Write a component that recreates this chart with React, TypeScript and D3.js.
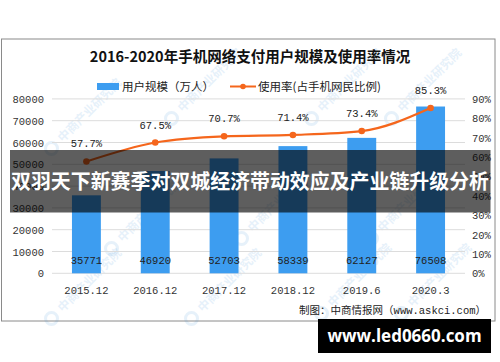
import React from "react";
import * as d3 from "d3";

const categories = ["2015.12", "2016.12", "2017.12", "2018.12", "2019.6", "2020.3"];
const users = [35771, 46920, 52703, 58339, 62127, 76508];
const rates = [57.7, 67.5, 70.7, 71.4, 73.4, 85.3];
const leftTicks = [0, 10000, 20000, 30000, 40000, 50000, 60000, 70000, 80000];
const rightTicks = [0, 10, 20, 30, 40, 50, 60, 70, 80, 90];

const W = 500;
const H = 362;
const mono = "'Liberation Mono', 'DejaVu Sans Mono', monospace";
const cjk = "'Noto Sans CJK SC', sans-serif";

export default function App() {
  const x = d3.scaleBand<string>().domain(categories).range([52, 465]).paddingInner(0.58).paddingOuter(0.29);
  const yL = d3.scaleLinear().domain([0, 80000]).range([273.3, 98.9]);
  const yR = d3.scaleLinear().domain([0, 90]).range([273.3, 98.9]);
  const pts: [number, number][] = categories.map((c, i) => [x(c)! + x.bandwidth() / 2, yR(rates[i])]);
  const line = d3.line().curve(d3.curveMonotoneX)(pts) || "";
  const wm = [
    [60, 140], [180, 110], [320, 110], [400, 110], [120, 240], [250, 230], [380, 230], [60, 310], [200, 310], [330, 305], [410, 305],
  ];
  return (
    <svg width={W} height={H} style={{ position: "absolute", left: 0, top: 0, background: "#fff" }}>
      <rect x={0} y={0} width={W} height={H} fill="#fff" />
      <rect x={1.5} y={39} width={493.5} height={282} fill="#fff" stroke="#8a8a8a" strokeWidth={1} />
      {wm.map(([wx, wy], i) => (
        <g key={i} transform={`translate(${wx},${wy}) rotate(-45)`} opacity={0.12}>
          <circle cx={-12} cy={0} r={6} fill="none" stroke="#3a8fd8" strokeWidth={3} />
          <text x={0} y={4} fontFamily={cjk} fontSize={12} fontWeight="bold" fill="#3a8fd8">中商产业研究院</text>
        </g>
      ))}
      <text x={250} y={62} textAnchor="middle" fontFamily={cjk} fontSize={14.5} fontWeight="bold" fill="#111">
        2016-2020年手机网络支付用户规模及使用率情况
      </text>
      {/* legend */}
      <rect x={97} y={83} width={22} height={7} fill="#3d9df0" />
      <text x={122} y={90.5} fontFamily={cjk} fontSize={11.5} fill="#222">用户规模（万人）</text>
      <line x1={230} x2={256} y1={86.5} y2={86.5} stroke="#f5661c" strokeWidth={2} />
      <circle cx={243} cy={86.5} r={2.8} fill="#f5661c" />
      <text x={258} y={90.5} fontFamily={cjk} fontSize={11.5} fill="#222">使用率(占手机网民比例)</text>
      {/* grid */}
      {leftTicks.map((t) => (
        <line key={t} x1={52} x2={465} y1={yL(t)} y2={yL(t)} stroke="#dcdcdc" strokeWidth={1} />
      ))}
      {leftTicks.map((t) => (
        <text key={t} x={44} y={yL(t) + 4} textAnchor="end" fontFamily={mono} fontSize={10.5} fill="#333">{t}</text>
      ))}
      {rightTicks.map((t) => (
        <text key={t} x={472} y={yR(t) + 4} fontFamily={mono} fontSize={10.5} fill="#333">{t}%</text>
      ))}
      {categories.map((c, i) => (
        <g key={c}>
          <rect x={x(c)!} y={yL(users[i])} width={x.bandwidth()} height={yL(0) - yL(users[i])} fill="#3d9df0" />
          <text x={x(c)! + x.bandwidth() / 2} y={264} textAnchor="middle" fontFamily={mono} fontSize={10.5} fill="#222">{users[i]}</text>
          <text x={x(c)! + x.bandwidth() / 2} y={294} textAnchor="middle" fontFamily={mono} fontSize={10.5} fill="#333">{c}</text>
        </g>
      ))}
      <path d={line} fill="none" stroke="#f5661c" strokeWidth={2.2} />
      {pts.map(([px, py], i) => (
        <g key={i}>
          <circle cx={px} cy={py} r={3.3} fill="#f5661c" />
          <text x={px} y={py - 14} textAnchor="middle" fontFamily={mono} fontSize={10.5} fill="#222">{rates[i].toFixed(1)}%</text>
        </g>
      ))}
      <text x={486} y={314} textAnchor="end" fontFamily={cjk} fontSize={10.5} fill="#222">
        制图：中商情报网（<tspan fontFamily={mono}>www.askci.com</tspan>）
      </text>
      {/* overlay band */}
      <rect x={10} y={150} width={480.5} height={62.5} fill="rgba(0,0,0,0.63)" />
      <text x={250} y={189} textAnchor="middle" fontFamily={cjk} fontSize={20} fontWeight="bold" fill="#fff" textLength={478} lengthAdjust="spacingAndGlyphs">
        双羽天下新赛季对双城经济带动效应及产业链升级分析
      </text>
      <rect x={318} y={319} width={173} height={34} fill="#000" />
      <text x={404.5} y={342} textAnchor="middle" fontFamily="'Open Sans', 'DejaVu Sans', sans-serif" fontSize={17} fontWeight="bold" fill="#fff">
        www.led0660.com
      </text>
    </svg>
  );
}
